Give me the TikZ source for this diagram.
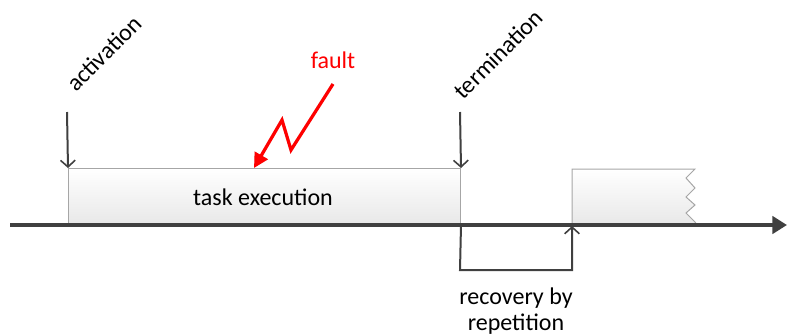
\documentclass[tikz,border=0pt]{standalone}
\usepackage{fontspec}
\setmainfont{Carlito}
\usetikzlibrary{arrows.meta}
\definecolor{axisgray}{HTML}{404040}
\definecolor{boxedge}{HTML}{A6A6A6}
\definecolor{boxlow}{HTML}{E8E8E8}
\tikzset{
  label/.style={font=\fontsize{18pt}{19pt}\selectfont, text=black, inner sep=0pt},
  taskbox/.style={draw=boxedge, line width=0.75pt, top color=white, bottom color=boxlow,
                  inner sep=0pt, anchor=south west},
  pointer/.style={draw=axisgray, line width=1.5pt, -{Straight Barb[length=5pt,width=11pt,line width=1.2pt]}},
  timeline/.style={draw=axisgray, line width=3pt, -{Triangle[length=11pt,width=13pt]}},
  bolt/.style={line width=2.4pt, line join=miter, -{Triangle[length=11pt,width=11pt]}},
}
\begin{document}
\begin{tikzpicture}[x=0.75pt,y=-0.75pt]
\useasboundingbox (0,0) rectangle (787,333);

% first run of the task
\node[taskbox, minimum width=294pt, minimum height=42pt] (exec) at (68,225) {};
\node[label] (execlbl) at (263,197) {task execution};

% second run, cut off at the right
\coordinate (rep) at (572,225);
\shade[top color=white, bottom color=boxlow, draw=boxedge, line width=0.75pt]
  (572,225) -- (572,169) -- (695,169) -- (686,178) -- (695,188) -- (686,197)
  -- (695,205) -- (686,213) -- (695,222) -- (697,225);

% time axis
\coordinate (t0) at (10,225);
\coordinate (t1) at (787,225);
\draw[timeline] (t0) -- (t1);

% activation and termination markers
\coordinate (actsrc) at (67,112);
\coordinate (termsrc) at (460,112);
\draw[pointer] (actsrc) -- (exec.north west);
\draw[pointer] (termsrc) -- (exec.north east);
\node[label, rotate=45, anchor=base west] (actlbl) at (76,93) {activation};
\node[label, rotate=45, anchor=base west] (termlbl) at (463,101) {termination};

% recovery path
\coordinate (rdown) at (460,270);
\coordinate (rright) at (572,270);
\coordinate (rtip) at (572,226);
\draw[pointer] (exec.south east) -- (rdown) -- (rright) -- (rtip);
\node[label, align=center] (reclbl) at (516,311) {recovery by\\repetition};

% fault lightning bolt with soft shadow
\coordinate (f0) at (333,84);
\coordinate (f1) at (291,150);
\coordinate (f2) at (282,120);
\coordinate (f3) at (254,168);
\draw[bolt, draw=black!12, shift={(3,3)}] (f0) -- (f1) -- (f2) -- (f3);
\draw[bolt, draw=red] (f0) -- (f1) -- (f2) -- (f3);
\node[label, text=red] (faultlbl) at (333,60) {fault};
\end{tikzpicture}
\end{document}
